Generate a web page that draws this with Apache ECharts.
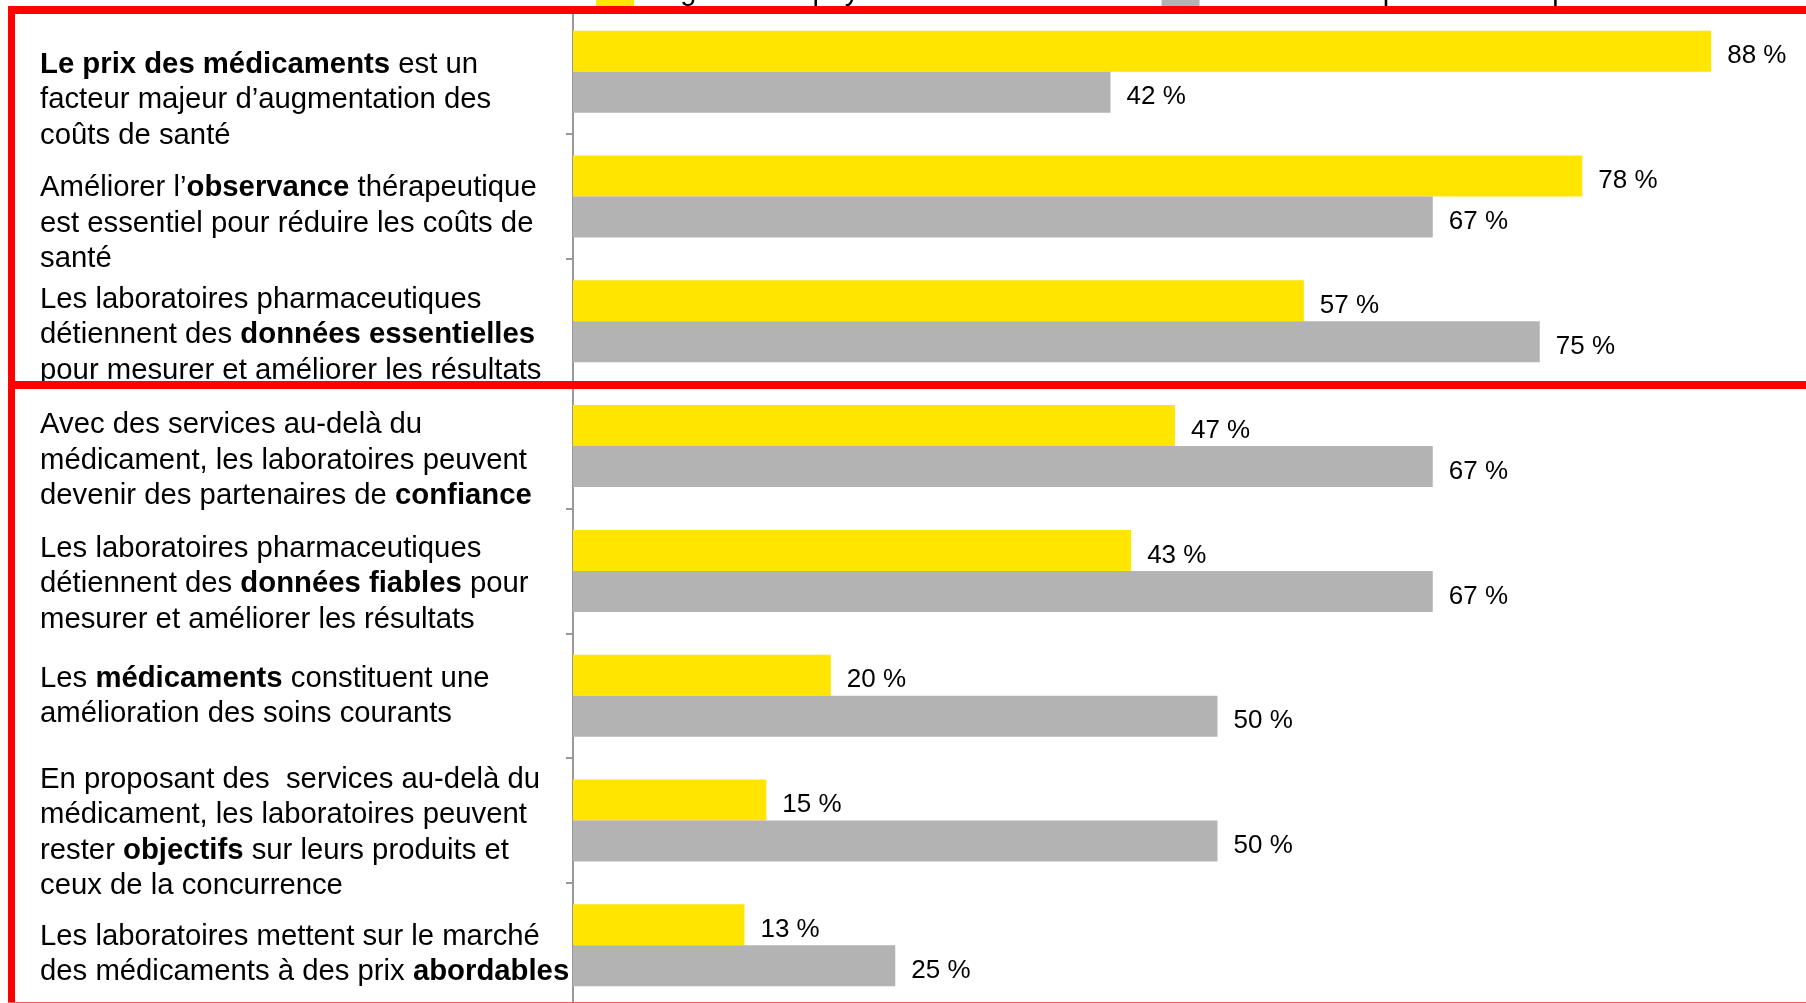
<!DOCTYPE html>
<html>
<head>
<meta charset="utf-8">
<title>Perception</title>
<script src="https://cdn.jsdelivr.net/npm/echarts@6/dist/echarts.min.js"></script>
<style>
html, body { margin: 0; padding: 0; background: #fff; }
#chart { width: 1806px; height: 1003px; }
</style>
</head>
<body>
<div id="chart"></div>
<script>
// statements (top to bottom), bold words in {b|...}
const categories = [
    '{b|Le prix des médicaments} est un\nfacteur majeur d’augmentation des\ncoûts de santé',
    'Améliorer l’{b|observance} thérapeutique\nest essentiel pour réduire les coûts de\nsanté',
    'Les laboratoires pharmaceutiques\ndétiennent des {b|données essentielles}\npour mesurer et améliorer les résultats',
    'Avec des services au-delà du\nmédicament, les laboratoires peuvent\ndevenir des partenaires de {b|confiance}',
    'Les laboratoires pharmaceutiques\ndétiennent des {b|données fiables} pour\nmesurer et améliorer les résultats',
    'Les {b|médicaments} constituent une\namélioration des soins courants',
    'En proposant des  services au-delà du\nmédicament, les laboratoires peuvent\nrester {b|objectifs} sur leurs produits et\nceux de la concurrence',
    'Les laboratoires mettent sur le marché\ndes médicaments à des prix {b|abordables}'
]
const seriesNames = ['Organismes payeurs', 'Laboratoires pharmaceutiques']
const payeurs = [88.3, 78.3, 56.7, 46.7, 43.3, 20, 15, 13.3]
const labos = [41.7, 66.7, 75, 66.7, 66.7, 50, 50, 25]

// vertical nudge of each statement (px, down)
const labelShift = [28.3, 27, 13.7, 14.4, 13.1, 0.8, 12.5, 9.2]

const FONT = "'Liberation Sans', Arial, sans-serif"

const yData = categories.map((c, i) => {
    const s = labelShift[i]
    return {
        value: c,
        textStyle: {
            align: 'left',
            padding: s >= 0 ? [2 * s, 0, 0, 0] : [0, 0, -2 * s, 0]
        }
    }
})

const barLabel = {
    show: true,
    position: 'right',
    distance: 16,
    offset: [0, 5],
    fontSize: 26,
    fontFamily: FONT,
    color: '#000',
    formatter: p => Math.round(p.value) + ' %'
}

const chart = echarts.init(document.getElementById('chart'))
chart.setOption({
    animation: false,
    backgroundColor: '#fff',
    legend: {
        data: seriesNames,
        left: 596,
        top: -25,
        padding: 0,
        itemWidth: 38,
        itemHeight: 34,
        itemGap: 246,
        icon: 'rect',
        textStyle: { fontSize: 29, fontFamily: FONT, color: '#000', padding: [0, 0, 0, 9] }
    },
    grid: {
        left: 573,
        top: 9.3,
        width: 1289,
        height: 998.4,
        containLabel: false,
        outerBoundsMode: 'none'
    },
    xAxis: {
        type: 'value',
        min: 0,
        max: 100,
        show: false
    },
    yAxis: {
        type: 'category',
        inverse: true,
        data: yData,
        axisLine: { show: true, lineStyle: { color: '#999', width: 2 } },
        axisTick: { show: true, length: 7, lineStyle: { color: '#999', width: 2 } },
        axisLabel: {
            interval: 0,
            align: 'left',
            margin: 533,
            fontSize: 29.3,
            lineHeight: 35.5,
            fontFamily: FONT,
            color: '#000',
            rich: {
                b: { fontSize: 29.3, lineHeight: 35.5, fontWeight: 'bold', fontFamily: FONT, color: '#000' }
            }
        },
        splitLine: { show: false }
    },
    series: [
        {
            name: seriesNames[0],
            type: 'bar',
            data: payeurs,
            barWidth: 41,
            barGap: '0%',
            itemStyle: { color: '#FFE500' },
            label: barLabel
        },
        {
            name: seriesNames[1],
            type: 'bar',
            data: labos,
            barWidth: 41,
            barGap: '0%',
            itemStyle: { color: '#B3B3B3' },
            label: barLabel
        }
    ],
    graphic: [
        { type: 'rect', z: 100, shape: { x: 8, y: 6, width: 1798, height: 8 }, style: { fill: '#ff0000' } },
        { type: 'rect', z: 100, shape: { x: 8, y: 6, width: 7, height: 997 }, style: { fill: '#ff0000' } },
        { type: 'rect', z: 100, shape: { x: 8, y: 381, width: 1798, height: 8 }, style: { fill: '#ff0000' } },
        { type: 'rect', z: 100, shape: { x: 8, y: 1002, width: 1798, height: 1 }, style: { fill: '#ff5a5a' } }
    ]
})
</script>
</body>
</html>
